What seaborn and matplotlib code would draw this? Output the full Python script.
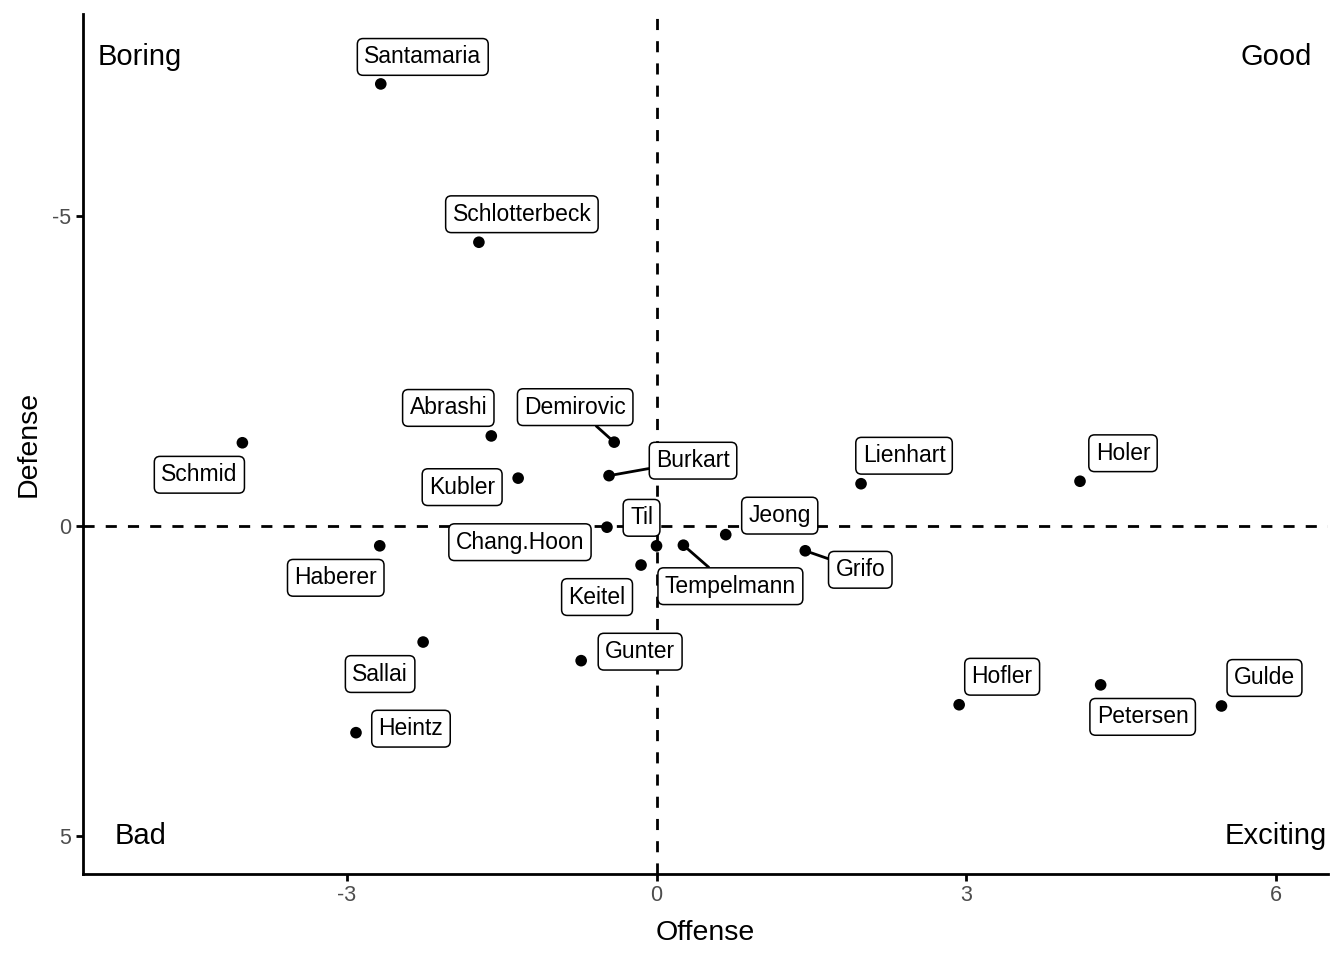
import matplotlib
matplotlib.use("Agg")
import matplotlib.pyplot as plt
import seaborn as sns
import pandas as pd

# player values
players = ["Santamaria", "Schlotterbeck", "Schmid", "Abrashi", "Demirovic", "Kubler",
           "Burkart", "Lienhart", "Holer", "Til", "Jeong", "Chang.Hoon", "Tempelmann",
           "Keitel", "Grifo", "Haberer", "Sallai", "Gunter", "Heintz", "Hofler",
           "Petersen", "Gulde"]
offense = [-2.67, -1.72, -4.01, -1.60, -0.41, -1.34, -0.46, 1.98, 4.10, 0.00, 0.67,
           -0.48, 0.26, -0.15, 1.44, -2.68, -2.26, -0.73, -2.91, 2.93, 4.30, 5.47]
defense = [-7.12, -4.57, -1.34, -1.45, -1.35, -0.77, -0.81, -0.68, -0.72, 0.32, 0.14,
           0.02, 0.31, 0.63, 0.40, 0.32, 1.87, 2.17, 3.33, 2.88, 2.56, 2.90]

quadrants = ["Boring", "Good", "Bad", "Exciting"]
quad_x = [-5, 6, -5, 6]
quad_y = [-7.55, -7.55, 5, 5]

df = pd.DataFrame({"player": players, "Offense": offense, "Defense": defense})

# where the repelled labels ended up, in pixels (right, down) from their point
label_nudge = {
    "Santamaria": (42, -27), "Schlotterbeck": (43, -28), "Schmid": (-43, 32),
    "Abrashi": (-43, -28), "Demirovic": (-39, -35), "Kubler": (-56, 9),
    "Burkart": (84, -15), "Lienhart": (43, -28), "Holer": (43, -28),
    "Til": (-15, -28), "Jeong": (54, -19), "Chang.Hoon": (-87, 15),
    "Tempelmann": (47, 41), "Keitel": (-44, 32), "Grifo": (55, 19),
    "Haberer": (-44, 32), "Sallai": (-43, 32), "Gunter": (59, -9),
    "Heintz": (55, -4), "Hofler": (43, -28), "Petersen": (42, 32), "Gulde": (43, -28),
}
with_segment = ["Demirovic", "Burkart", "Tempelmann", "Grifo"]

sns.set_theme(style="ticks")
plt.rcParams["font.family"] = ["Liberation Sans", "DejaVu Sans"]
plt.rcParams["axes.unicode_minus"] = False

fig, ax = plt.subplots(figsize=(13.44, 9.6), dpi=100)
fig.subplots_adjust(left=0.062, right=0.988, top=0.985, bottom=0.09)

ax.axhline(0, color="black", linestyle=(0, (4, 4)), lw=2.0, zorder=1)
ax.axvline(0, color="black", linestyle=(0, (4, 4)), lw=2.0, zorder=1)

sns.scatterplot(data=df, x="Offense", y="Defense", color="black", s=70,
                edgecolor="none", ax=ax, zorder=3)

for name, xv, yv in zip(players, offense, defense):
    dx, dy = label_nudge[name]
    arrow = None
    if name in with_segment:
        arrow = dict(arrowstyle="-", color="black", lw=2.0, shrinkA=0, shrinkB=4)
    ax.annotate(name, (xv, yv), xytext=(dx * 0.72, -dy * 0.72),
                textcoords="offset points", ha="center", va="center", fontsize=16.5,
                color="black",
                bbox=dict(boxstyle="round,pad=0.3,rounding_size=0.25", fc="white",
                          ec="black", lw=1.1),
                arrowprops=arrow, zorder=4)

for txt, qx, qy in zip(quadrants, quad_x, quad_y):
    ax.text(qx, qy, txt, ha="center", va="center", fontsize=21, color="black")

ax.set_xlim(-5.55, 6.5)
ax.set_ylim(5.6, -8.24)
ax.set_xticks([-3, 0, 3, 6])
ax.set_yticks([-5, 0, 5])
ax.tick_params(colors="#4d4d4d", labelsize=15.5, length=5, width=2.0)
ax.tick_params(axis="both", color="black")
for s in ["left", "bottom"]:
    ax.spines[s].set_linewidth(2.0)
    ax.spines[s].set_color("black")
sns.despine(ax=ax)
ax.set_xlabel("Offense", fontsize=20.5, color="black", labelpad=10)
ax.set_ylabel("Defense", fontsize=20.5, color="black", labelpad=8)

plt.savefig("out.png", dpi=100)
